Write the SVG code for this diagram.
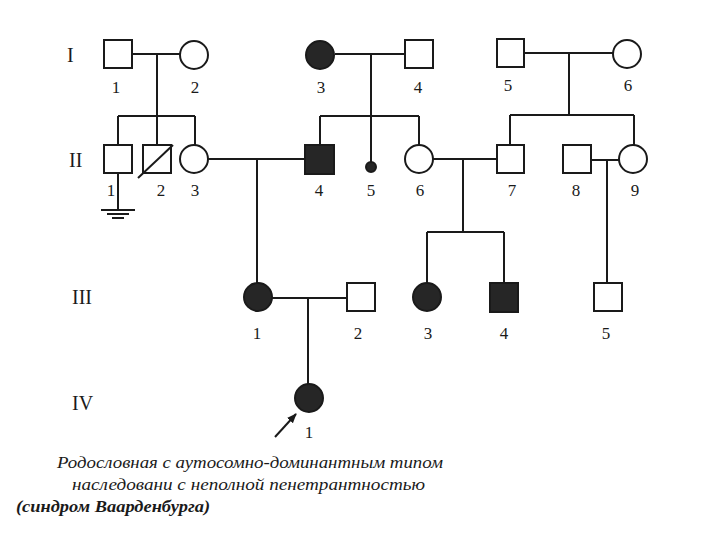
<svg xmlns="http://www.w3.org/2000/svg" width="720" height="540" viewBox="0 0 720 540">
<style>
.ln{stroke:#1a1a1a;stroke-width:2;fill:none}
.o{fill:#fff;stroke:#1a1a1a;stroke-width:2}
.f{fill:#262626;stroke:#1a1a1a;stroke-width:2}
.lb{font-family:"Liberation Serif",serif;font-size:17px;fill:#1a1a1a;text-anchor:middle}
.rn{font-family:"Liberation Serif",serif;font-size:20px;fill:#1a1a1a}
.cap{font-family:"Liberation Serif",serif;font-size:16px;font-style:italic;fill:#1a1a1a}
</style>
<defs>
<marker id="ah" viewBox="0 0 10 10" refX="9" refY="5" markerWidth="10" markerHeight="10" orient="auto" markerUnits="userSpaceOnUse">
<path d="M0,1 L10,5 L0,9 Z" fill="#1a1a1a"/>
</marker>
</defs>
<rect width="720" height="540" fill="#fff"/>
<g id="generations">
<text class="rn" x="67" y="62">I</text>
<text class="rn" x="69" y="167">II</text>
<text class="rn" x="72" y="304">III</text>
<text class="rn" x="72" y="410">IV</text>
</g>
<g id="connectors">
<path class="ln" d="M132,54 H180 M157,54 V116 M118,116 H195 M118,116 V145 M157,116 V145 M195,116 V145"/>
<path class="ln" d="M118,173 V210 M101,210 H135 M107,214 H129 M112,218 H124"/>
<path class="ln" d="M335,54 H405 M371,54 V162 M320,116 H419 M320,116 V145 M419,116 V145"/>
<path class="ln" d="M524,53 H613 M569,53 V115 M510,115 H634 M510,115 V145 M634,115 V145"/>
<path class="ln" d="M208,159 H305 M257,159 V283"/>
<path class="ln" d="M433,159 H497 M463,159 V232 M427,232 H504 M427,232 V283 M504,232 V283"/>
<path class="ln" d="M591,160 H619 M607,160 V283"/>
<path class="ln" d="M272,298 H347 M308,298 V384"/>
<line class="ln" x1="275" y1="437" x2="296" y2="414" marker-end="url(#ah)"/>
</g>
<g id="I-1"><rect class="o" x="104" y="40" width="28" height="28"/><text class="lb" x="116" y="93">1</text></g>
<g id="I-2"><circle class="o" cx="194" cy="55" r="14"/><text class="lb" x="195" y="93">2</text></g>
<g id="I-3"><circle class="f" cx="320" cy="55" r="14"/><text class="lb" x="321" y="93">3</text></g>
<g id="I-4"><rect class="o" x="405" y="40" width="28" height="28"/><text class="lb" x="418" y="93">4</text></g>
<g id="I-5"><rect class="o" x="497" y="39" width="27" height="28"/><text class="lb" x="508" y="91">5</text></g>
<g id="I-6"><circle class="o" cx="627" cy="54" r="14"/><text class="lb" x="628" y="91">6</text></g>
<g id="II-1"><rect class="o" x="104" y="145" width="28" height="28"/><text class="lb" x="111" y="196">1</text></g>
<g id="II-2"><rect class="o" x="143" y="145" width="28" height="28"/><line class="ln" x1="138" y1="178" x2="173" y2="145" stroke-width="1.5"/><text class="lb" x="161" y="196">2</text></g>
<g id="II-3"><circle class="o" cx="194" cy="159" r="14"/><text class="lb" x="195" y="196">3</text></g>
<g id="II-4"><rect class="f" x="305" y="145" width="29" height="29"/><text class="lb" x="319" y="196">4</text></g>
<g id="II-5"><circle class="f" cx="371" cy="167" r="5"/><text class="lb" x="371" y="196">5</text></g>
<g id="II-6"><circle class="o" cx="419" cy="159" r="14"/><text class="lb" x="420" y="196">6</text></g>
<g id="II-7"><rect class="o" x="497" y="145" width="27" height="28"/><text class="lb" x="512" y="196">7</text></g>
<g id="II-8"><rect class="o" x="563" y="145" width="28" height="28"/><text class="lb" x="576" y="196">8</text></g>
<g id="II-9"><circle class="o" cx="633" cy="159" r="14"/><text class="lb" x="635" y="196">9</text></g>
<g id="III-1"><circle class="f" cx="258" cy="297" r="14"/><text class="lb" x="257" y="339">1</text></g>
<g id="III-2"><rect class="o" x="347" y="283" width="28" height="28"/><text class="lb" x="358" y="339">2</text></g>
<g id="III-3"><circle class="f" cx="427" cy="297" r="14"/><text class="lb" x="428" y="339">3</text></g>
<g id="III-4"><rect class="f" x="490" y="283" width="28" height="29"/><text class="lb" x="504" y="339">4</text></g>
<g id="III-5"><rect class="o" x="594" y="283" width="28" height="28"/><text class="lb" x="606" y="339">5</text></g>
<g id="IV-1"><circle class="f" cx="309" cy="398" r="14"/><text class="lb" x="309" y="438">1</text></g>
<g id="caption">
<text class="cap" x="57" y="468" textLength="386" lengthAdjust="spacingAndGlyphs">Родословная с аутосомно-доминантным типом</text>
<text class="cap" x="72" y="490" textLength="353" lengthAdjust="spacingAndGlyphs">наследовани с неполной пенетрантностью</text>
<text class="cap" x="16" y="512" font-weight="bold" textLength="194" lengthAdjust="spacingAndGlyphs">(синдром Ваарденбурга)</text>
</g>
</svg>
